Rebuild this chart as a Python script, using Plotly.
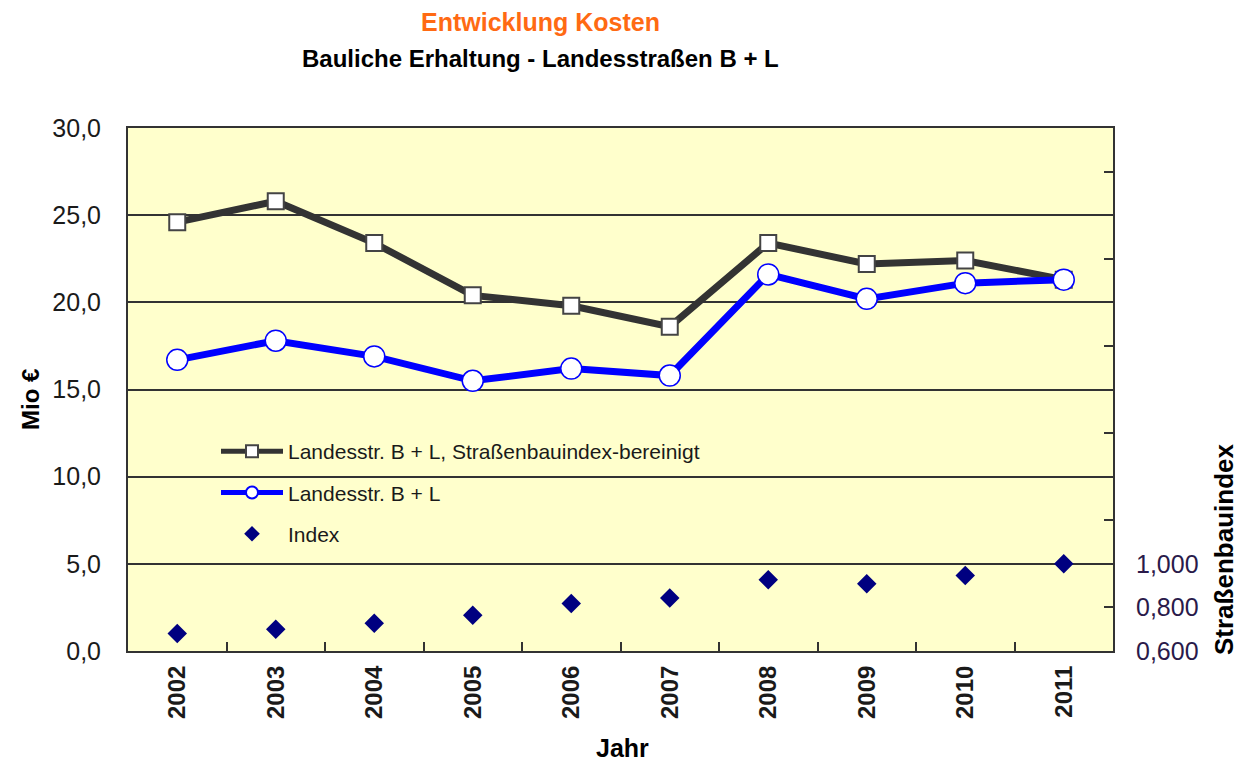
import plotly.graph_objects as go

# data
jahre = ['2002', '2003', '2004', '2005', '2006', '2007', '2008', '2009', '2010', '2011']
bereinigt = [24.6, 25.8, 23.4, 20.4, 19.8, 18.6, 23.4, 22.2, 22.4, 21.3]
kosten = [16.7, 17.8, 16.9, 15.5, 16.2, 15.8, 21.6, 20.2, 21.1, 21.3]
index = [0.680, 0.700, 0.727, 0.764, 0.818, 0.843, 0.927, 0.909, 0.947, 1.000]

y2_tickvals = [0.6, 0.8, 1.0, 1.2, 1.4, 1.6, 1.8, 2.0, 2.2, 2.4, 2.6, 2.8, 3.0]
y2_ticktext = ['0,600', '0,800', '1,000', '', '', '', '', '', '', '', '', '', '']

FONT = 'Liberation Sans, Arial, sans-serif'
TXT = '#1a1a1a'

W, H = 1238, 764
PL, PR, PT, PB = 128, 1113, 128, 651   # plot area in pixels


def px(xw):
    return (xw - PL) / (PR - PL)


def py(yw):
    return (PB - yw) / (PB - PT)


fig = go.Figure()

fig.add_trace(go.Scatter(
    x=jahre, y=bereinigt, name='Landesstr. B + L, Straßenbauindex-bereinigt',
    mode='lines+markers', legendgroup='a',
    line=dict(color='#333333', width=7),
    marker=dict(symbol='square', size=16, color='white',
                line=dict(color='#444444', width=2))))

fig.add_trace(go.Scatter(
    x=jahre, y=kosten, name='Landesstr. B + L',
    mode='lines+markers', legendgroup='b',
    line=dict(color='#0000ff', width=7),
    marker=dict(symbol='circle', size=21, color='white',
                line=dict(color='#0000ff', width=1.5))))

fig.add_trace(go.Scatter(
    x=jahre, y=index, name='Index', yaxis='y2',
    mode='markers', legendgroup='c',
    marker=dict(symbol='diamond', size=15, color='#000080')))

fig.update_layout(
    width=W, height=H,
    margin=dict(l=PL, r=W - PR, t=PT, b=H - PB),
    paper_bgcolor='white', plot_bgcolor='#ffffcc',
    separators=',.',
    font=dict(family=FONT, color=TXT),
    showlegend=True,
    legend=dict(x=px(216), y=py(431), xanchor='left', yanchor='top',
                bgcolor='rgba(0,0,0,0)', font=dict(size=21, color=TXT),
                tracegroupgap=11, itemwidth=62, itemsizing='constant'),
    xaxis=dict(type='category', range=[-0.5, len(jahre) - 0.5],
               showline=True, linecolor='#333333', linewidth=2,
               mirror=True, ticks='inside', tickson='boundaries', ticklen=9,
               tickcolor='#333333', tickwidth=2, tickangle=-90,
               ticklabelstandoff=3,
               tickfont=dict(size=24, weight='bold', color=TXT), showgrid=False),
    yaxis=dict(range=[0, 30], dtick=5, tickformat='.1f', showline=True,
               linecolor='#333333', linewidth=2, mirror=True, ticks='',
               showgrid=True, gridcolor='#333333', gridwidth=1.5,
               ticklabelstandoff=20,
               zeroline=False, tickfont=dict(size=25, color=TXT)),
    yaxis2=dict(overlaying='y', side='right', range=[0.6, 3.0],
                tickvals=y2_tickvals, ticktext=y2_ticktext, ticks='inside',
                ticklen=9, tickcolor='#333333', tickwidth=2, showgrid=False,
                zeroline=False, showline=False, ticklabelstandoff=22,
                tickfont=dict(size=25, color='#2a1a4a')),
)

ann = dict(xref='paper', yref='paper', showarrow=False,
           xanchor='center', yanchor='middle')
fig.add_annotation(text='Entwicklung Kosten', x=px(540), y=py(22), **ann,
                   font=dict(size=25, color='#ff6a13', weight='bold'))
fig.add_annotation(text='Bauliche Erhaltung - Landesstraßen B + L', x=px(540), y=py(58), **ann,
                   font=dict(size=24, color='black', weight='bold'))
fig.add_annotation(text='Mio €', x=px(30), y=py(400), textangle=-90, **ann,
                   font=dict(size=24, color='black', weight='bold'))
fig.add_annotation(text='Straßenbauindex', x=px(1224), y=py(550), textangle=-90, **ann,
                   font=dict(size=26, color='black', weight='bold'))
fig.add_annotation(text='Jahr', x=px(622), y=py(748), **ann,
                   font=dict(size=25, color='black', weight='bold'))

# drop the default 8px body margin so the figure fills the window
fig.write_html("out.html", config={'displayModeBar': False},
               post_script="document.body.style.margin='0';")
